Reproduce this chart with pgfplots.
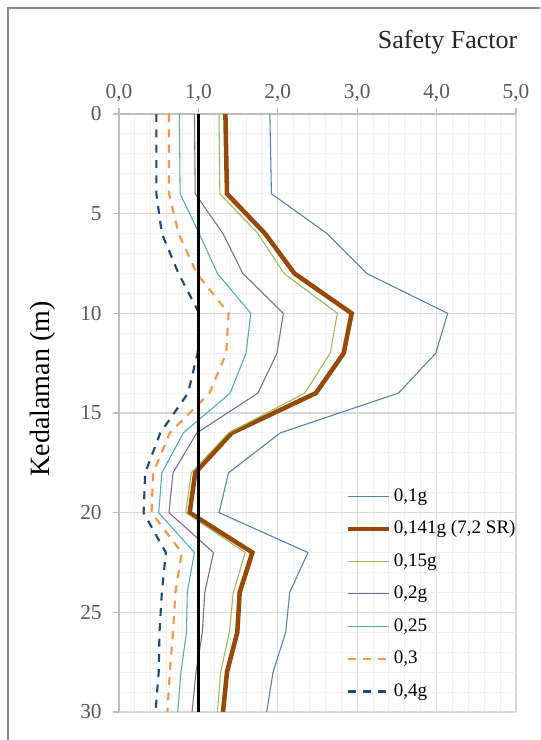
\documentclass[border=0pt]{standalone}
\usepackage{fontspec}
\setmainfont{Liberation Serif}
\usepackage{pgfplots}
\pgfplotsset{compat=1.18}
\definecolor{cA}{HTML}{4F81BD}
\definecolor{cB}{HTML}{984807}
\definecolor{cC}{HTML}{9BBB59}
\definecolor{cD}{HTML}{8064A2}
\definecolor{cE}{HTML}{4BACC6}
\definecolor{cF}{HTML}{F79646}
\definecolor{cG}{HTML}{1F497D}
\definecolor{tickgray}{HTML}{595959}
\definecolor{majgrid}{HTML}{D9D9D9}
\definecolor{mingrid}{HTML}{F0F0F0}
\definecolor{axgray}{HTML}{BFBFBF}
\definecolor{framegray}{HTML}{8C8C8C}
\begin{document}
\begin{tikzpicture}[x=1pt,y=1pt]
\path[use as bounding box] (0,0) rectangle (405,555);
\clip (0,0) rectangle (405,555);
\fill[white] (0,0) rectangle (405,555);
\draw[framegray, line width=1.2pt] (6,-20) -- (6,549) -- (430,549);
\begin{axis}[
  at={(89.25pt,469.5pt)}, anchor=north west,
  scale only axis, width=297.75pt, height=448.5pt,
  xmin=0, xmax=5, ymin=0, ymax=30, y dir=reverse,
  axis x line*=top, axis y line*=left,
  axis line style={draw=axgray, line width=0.8pt, -},
  xtick={0,1,...,5}, ytick={0,5,...,30},
  minor x tick num=4, minor y tick num=4,
  grid=both,
  major grid style={draw=majgrid, line width=0.8pt},
  minor grid style={draw=mingrid, line width=0.8pt},
  tick align=outside, major tick length=4.5pt, minor tick length=0pt,
  tick style={draw=axgray, line width=0.8pt},
  /pgf/number format/assume math mode=true,
  xticklabel style={/pgf/number format/.cd, use comma, fixed, fixed zerofill, precision=1, /tikz/.cd},
  ticklabel style={font=\fontsize{16}{19}\selectfont, text=tickgray},
  xticklabel style={yshift=1pt},
  yticklabel style={xshift=-5pt},
  legend style={draw=none, fill=none, at={(axis cs:2.85,18.6)}, anchor=north west,
    font=\fontsize{14.3}{16}\selectfont, row sep=7.4pt, inner sep=0pt,
    nodes={inner sep=2pt, text height=10pt, text depth=3pt}},
  legend cell align=left,
  legend image code/.code={\draw[#1] (0pt,0pt) -- (30.75pt,0pt);},
]
\addplot[cA, line width=0.8pt] coordinates {(1.90,0) (1.92,4) (2.62,6) (3.12,8) (4.14,10) (3.99,12) (3.52,14) (2.03,16) (1.38,18) (1.26,20) (2.38,22) (2.15,24) (2.10,26) (1.94,28) (1.86,30)};
\addlegendentry{0,1g}
\addplot[cB, line width=3.4pt] coordinates {(1.34,0) (1.36,4) (1.84,6) (2.21,8) (2.93,10) (2.83,12) (2.48,14) (1.42,16) (0.96,18) (0.89,20) (1.68,22) (1.52,24) (1.49,26) (1.36,28) (1.31,30)};
\addlegendentry{0,141g (7,2 SR)}
\addplot[cC, line width=0.8pt] coordinates {(1.26,0) (1.27,4) (1.75,6) (2.08,8) (2.75,10) (2.66,12) (2.34,14) (1.38,16) (0.91,18) (0.84,20) (1.59,22) (1.44,24) (1.39,26) (1.28,28) (1.24,30)};
\addlegendentry{0,15g}
\addplot[cD, line width=0.8pt] coordinates {(0.95,0) (0.96,4) (1.31,6) (1.56,8) (2.07,10) (1.99,12) (1.75,14) (0.98,16) (0.68,18) (0.63,20) (1.19,22) (1.08,24) (1.05,26) (0.97,28) (0.92,30)};
\addlegendentry{0,2g}
\addplot[cE, line width=0.8pt] coordinates {(0.76,0) (0.77,4) (1.01,6) (1.24,8) (1.66,10) (1.60,12) (1.40,14) (0.81,16) (0.54,18) (0.50,20) (0.95,22) (0.86,24) (0.85,26) (0.78,28) (0.74,30)};
\addlegendentry{0,25}
\addplot[cF, line width=1.6pt, dash pattern=on 6pt off 5.5pt] coordinates {(0.63,0) (0.63,4) (0.75,6) (0.98,8) (1.38,10) (1.35,12) (1.14,14) (0.64,16) (0.43,18) (0.41,20) (0.79,22) (0.71,24) (0.68,26) (0.64,28) (0.61,30)};
\addlegendentry{0,3}
\addplot[cG, line width=1.6pt, dash pattern=on 6pt off 5.5pt] coordinates {(0.47,0) (0.47,4) (0.54,6) (0.75,8) (1.01,10) (0.99,12) (0.87,14) (0.52,16) (0.33,18) (0.31,20) (0.59,22) (0.54,24) (0.51,26) (0.50,28) (0.46,30)};
\addlegendentry{0,4g}
\addplot[black, line width=2.2pt, forget plot] coordinates {(1,0) (1,30)};
\end{axis}
\node[anchor=base east, font=\fontsize{19.5}{23}\selectfont, text=black!85] at (391.5,518.25) {Safety Factor};
\node[rotate=90, font=\fontsize{21}{24}\selectfont, text=black] at (32.25,263.25) {Kedalaman (m)};
\end{tikzpicture}
\end{document}
